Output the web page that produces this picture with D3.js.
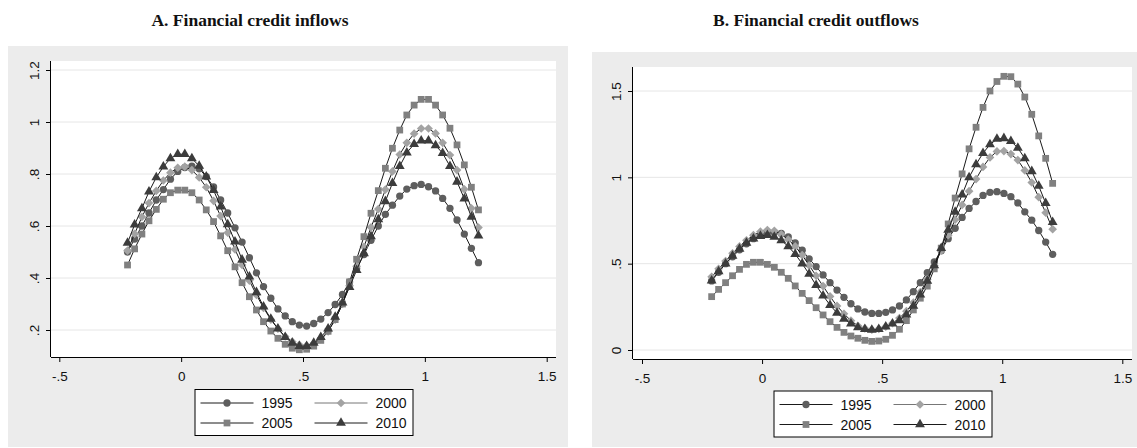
<!DOCTYPE html>
<meta charset="utf-8">
<style>
body { margin: 0; background: #fff; }
svg text { font-family: 'Liberation Sans', Arial, sans-serif; fill: #111; }
.title { font-family: 'Liberation Serif', serif; font-weight: bold; font-size: 17.5px; }
</style>
<body>
<svg id="chart" width="1137" height="448"></svg>

<script src="https://cdnjs.cloudflare.com/ajax/libs/d3/7.8.5/d3.min.js"></script>
<script>
var years = ['1995', '2000', '2005', '2010']

// panel A grid and curves
var xA = [-0.220, -0.191, -0.161, -0.132, -0.102, -0.073, -0.044, -0.014, 0.015, 0.044,
    0.074, 0.103, 0.133, 0.162, 0.191, 0.221, 0.250, 0.280, 0.309, 0.338,
    0.368, 0.397, 0.427, 0.456, 0.485, 0.515, 0.544, 0.573, 0.603, 0.632,
    0.662, 0.691, 0.720, 0.750, 0.779, 0.809, 0.838, 0.867, 0.897, 0.926,
    0.956, 0.985, 1.015, 1.044, 1.073, 1.103, 1.132, 1.162, 1.191, 1.220]
var inflows1995 = [0.50, 0.55, 0.60, 0.65, 0.70, 0.74, 0.78, 0.81, 0.825, 0.83,
    0.82, 0.79, 0.75, 0.70, 0.65, 0.593, 0.538, 0.478, 0.42, 0.367,
    0.322, 0.281, 0.254, 0.232, 0.219, 0.215, 0.225, 0.242, 0.267, 0.298,
    0.337, 0.385, 0.437, 0.49, 0.545, 0.60, 0.645, 0.68, 0.715, 0.742,
    0.755, 0.76, 0.751, 0.735, 0.706, 0.668, 0.623, 0.569, 0.514, 0.459]
var inflows2000 = [0.505, 0.57, 0.635, 0.688, 0.735, 0.775, 0.805, 0.824, 0.828, 0.815,
    0.787, 0.749, 0.697, 0.638, 0.574, 0.51, 0.45, 0.39, 0.335, 0.285,
    0.24, 0.205, 0.175, 0.155, 0.143, 0.14, 0.148, 0.165, 0.195, 0.24,
    0.30, 0.37, 0.445, 0.52, 0.595, 0.665, 0.74, 0.81, 0.875, 0.92,
    0.955, 0.975, 0.975, 0.956, 0.92, 0.873, 0.815, 0.741, 0.668, 0.594]
var inflows2005 = [0.45, 0.512, 0.569, 0.62, 0.664, 0.703, 0.728, 0.738, 0.738, 0.728,
    0.70, 0.662, 0.617, 0.562, 0.505, 0.443, 0.382, 0.328, 0.277, 0.232,
    0.196, 0.168, 0.145, 0.13, 0.124, 0.126, 0.138, 0.16, 0.195, 0.24,
    0.30, 0.385, 0.472, 0.559, 0.649, 0.736, 0.822, 0.899, 0.969, 1.027,
    1.065, 1.087, 1.087, 1.065, 1.027, 0.976, 0.912, 0.835, 0.749, 0.662]
var inflows2010 = [0.535, 0.605, 0.668, 0.732, 0.787, 0.828, 0.86, 0.876, 0.876, 0.86,
    0.831, 0.79, 0.738, 0.674, 0.606, 0.54, 0.47, 0.405, 0.345, 0.29,
    0.243, 0.205, 0.172, 0.15, 0.138, 0.138, 0.15, 0.172, 0.205, 0.25,
    0.305, 0.365, 0.43, 0.495, 0.56, 0.625, 0.695, 0.765, 0.83, 0.882,
    0.915, 0.928, 0.928, 0.91, 0.88, 0.83, 0.77, 0.705, 0.635, 0.563]

// panel B grid and curves
var xB = [-0.210, -0.181, -0.152, -0.123, -0.094, -0.065, -0.036, -0.007, 0.022, 0.051,
    0.080, 0.109, 0.138, 0.167, 0.196, 0.225, 0.254, 0.283, 0.312, 0.341,
    0.370, 0.399, 0.428, 0.457, 0.486, 0.515, 0.543, 0.572, 0.601, 0.630,
    0.659, 0.688, 0.717, 0.746, 0.775, 0.804, 0.833, 0.862, 0.891, 0.920,
    0.949, 0.978, 1.007, 1.036, 1.065, 1.094, 1.123, 1.152, 1.181, 1.210]
var outflows1995 = [0.40, 0.45, 0.50, 0.54, 0.58, 0.615, 0.645, 0.665, 0.678, 0.68,
    0.675, 0.655, 0.62, 0.578, 0.528, 0.483, 0.435, 0.39, 0.347, 0.305,
    0.268, 0.238, 0.22, 0.212, 0.212, 0.218, 0.232, 0.255, 0.29, 0.338,
    0.39, 0.448, 0.51, 0.575, 0.645, 0.705, 0.768, 0.82, 0.86, 0.895,
    0.913, 0.917, 0.907, 0.888, 0.852, 0.80, 0.752, 0.692, 0.625, 0.554]
var outflows2000 = [0.424, 0.47, 0.515, 0.56, 0.60, 0.635, 0.665, 0.685, 0.695, 0.69,
    0.67, 0.64, 0.60, 0.55, 0.49, 0.43, 0.37, 0.31, 0.255, 0.21,
    0.17, 0.14, 0.125, 0.118, 0.122, 0.135, 0.155, 0.185, 0.225, 0.275,
    0.335, 0.41, 0.49, 0.575, 0.665, 0.755, 0.84, 0.92, 0.99, 1.06,
    1.115, 1.15, 1.152, 1.135, 1.10, 1.04, 0.97, 0.885, 0.795, 0.70]
var outflows2005 = [0.309, 0.351, 0.39, 0.43, 0.467, 0.496, 0.508, 0.508, 0.496, 0.479,
    0.45, 0.415, 0.371, 0.328, 0.286, 0.245, 0.203, 0.164, 0.131, 0.102,
    0.081, 0.068, 0.056, 0.05, 0.052, 0.062, 0.085, 0.12, 0.17, 0.232,
    0.30, 0.37, 0.47, 0.59, 0.73, 0.88, 1.02, 1.165, 1.29, 1.405,
    1.50, 1.555, 1.585, 1.583, 1.54, 1.465, 1.365, 1.24, 1.11, 0.965]
var outflows2010 = [0.401, 0.455, 0.50, 0.545, 0.585, 0.62, 0.645, 0.66, 0.665, 0.655,
    0.635, 0.60, 0.555, 0.50, 0.44, 0.375, 0.315, 0.26, 0.215, 0.18,
    0.152, 0.131, 0.12, 0.116, 0.12, 0.135, 0.152, 0.172, 0.205, 0.255,
    0.32, 0.40, 0.49, 0.59, 0.695, 0.80, 0.90, 1.0, 1.075, 1.14,
    1.19, 1.222, 1.226, 1.21, 1.17, 1.11, 1.035, 0.95, 0.85, 0.74]

var xTicks = [-0.5, 0, 0.5, 1, 1.5]
var xTickLabels = ['-.5', '0', '.5', '1', '1.5']
var yTicksA = [0.2, 0.4, 0.6, 0.8, 1, 1.2]
var yTickLabelsA = ['.2', '.4', '.6', '.8', '1', '1.2']
var yTicksB = [0, 0.5, 1, 1.5]
var yTickLabelsB = ['0', '.5', '1', '1.5']

// marker style per year: circle, diamond, square, triangle
var markers = [
    { type: d3.symbolCircle, size: 42, fill: '#5e5e5e', rot: 0 },
    { type: d3.symbolSquare, size: 38, fill: '#a3a3a3', rot: 45 },
    { type: d3.symbolSquare, size: 46, fill: '#808080', rot: 0 },
    { type: d3.symbolTriangle, size: 42, fill: '#3c3c3c', rot: 0 }
]

var svg = d3.select('#chart')

panel({
    title: 'A. Financial credit inflows',
    titleX: 250,
    bg: [8, 46, 560, 401],
    plot: { left: 51, right: 556, top: 61, bottom: 357 },
    xRange: [59.3, 546.7],
    yDomain: [0.2, 1.2], yRange: [330, 70],
    yTicks: yTicksA, yTickLabels: yTickLabelsA,
    xs: xA,
    series: [inflows1995, inflows2000, inflows2005, inflows2010],
    legendY: 389
})

panel({
    title: 'B. Financial credit outflows',
    titleX: 816,
    bg: [592, 52, 545, 395],
    plot: { left: 633, right: 1132, top: 67, bottom: 359 },
    xRange: [642, 1122.3],
    yDomain: [0, 1.5], yRange: [350, 91],
    yTicks: yTicksB, yTickLabels: yTickLabelsB,
    xs: xB,
    series: [outflows1995, outflows2000, outflows2005, outflows2010],
    legendY: 390.5
})

function panel(cfg) {
    var p = cfg.plot
    var g = svg.append('g')

    g.append('rect')
        .attr('x', cfg.bg[0]).attr('y', cfg.bg[1])
        .attr('width', cfg.bg[2]).attr('height', cfg.bg[3])
        .style('fill', '#ececec')

    g.append('rect')
        .attr('x', p.left).attr('y', p.top)
        .attr('width', p.right - p.left).attr('height', p.bottom - p.top)
        .style('fill', '#fff')

    g.append('text')
        .attr('class', 'title')
        .attr('x', cfg.titleX)
        .attr('y', 26)
        .style('text-anchor', 'middle')
        .text(cfg.title)

    var x = d3.scaleLinear().domain([-0.5, 1.5]).range(cfg.xRange)
    var y = d3.scaleLinear().domain(cfg.yDomain).range(cfg.yRange)

    // grid
    g.append('g').selectAll('line')
        .data(cfg.yTicks)
        .enter().append('line')
        .attr('x1', p.left).attr('x2', p.right)
        .attr('y1', function (d) { return y(d) })
        .attr('y2', function (d) { return y(d) })
        .style('stroke', '#e6e6e6')
        .style('stroke-width', 1)

    var xAxis = d3.axisBottom(x)
        .tickValues(xTicks)
        .tickFormat(function (d, i) { return xTickLabels[i] })
        .tickSize(5)
        .tickPadding(9)
    var gx = g.append('g')
        .attr('transform', 'translate(0,' + p.bottom + ')')
        .call(xAxis)
    gx.select('.domain').attr('d', 'M' + p.left + ',0.5H' + p.right)

    var yAxis = d3.axisLeft(y)
        .tickValues(cfg.yTicks)
        .tickFormat(function (d, i) { return cfg.yTickLabels[i] })
        .tickSize(5)
    var gy = g.append('g')
        .attr('transform', 'translate(' + p.left + ',0)')
        .call(yAxis)
    gy.select('.domain').attr('d', 'M-0.5,' + p.top + 'V' + p.bottom)
    gy.selectAll('.tick text')
        .attr('transform', 'rotate(-90)')
        .attr('x', 0)
        .attr('y', -12)
        .attr('dy', 0)
        .style('text-anchor', 'middle')

    g.selectAll('.tick text').style('font-size', '13.5px').style('fill', '#111')
    g.selectAll('.domain, .tick line').style('stroke', '#000')

    var line = d3.line()
        .x(function (d, i) { return x(cfg.xs[i]) })
        .y(function (d) { return y(d) })

    cfg.series.forEach(function (values, s) {
        var m = markers[s]
        var sg = g.append('g')
        sg.append('path')
            .attr('d', line(values))
            .style('fill', 'none')
            .style('stroke', '#1a1a1a')
            .style('stroke-width', 1)
        sg.selectAll('path.pt')
            .data(values)
            .enter().append('path')
            .attr('class', 'pt')
            .attr('d', d3.symbol().type(m.type).size(m.size))
            .attr('transform', function (d, i) {
                return 'translate(' + x(cfg.xs[i]) + ',' + y(d) + ') rotate(' + m.rot + ')'
            })
            .style('fill', m.fill)
    })

    // legend
    var lw = 218, lh = 46
    var lx = (p.left + p.right) / 2 - lw / 2
    var lg = g.append('g').attr('transform', 'translate(' + lx + ',' + cfg.legendY + ')')
    lg.append('rect')
        .attr('x', 0.5).attr('y', 0.5)
        .attr('width', lw).attr('height', lh)
        .style('fill', '#fff')
        .style('stroke', '#000')

    years.forEach(function (yr, i) {
        var col = i % 2, row = Math.floor(i / 2)
        var cx = 6 + col * 114
        var cy = 14 + row * 20
        var m = markers[i]
        lg.append('line')
            .attr('x1', cx).attr('x2', cx + 53)
            .attr('y1', cy).attr('y2', cy)
            .style('stroke', i === 1 ? '#777' : '#1a1a1a')
            .style('stroke-width', 1)
        lg.append('path')
            .attr('d', d3.symbol().type(m.type).size(m.size)())
            .attr('transform', 'translate(' + (cx + 26.5) + ',' + cy + ') rotate(' + m.rot + ')')
            .style('fill', m.fill)
        lg.append('text')
            .attr('x', cx + 61)
            .attr('y', cy + 5)
            .style('font-size', '14px')
            .text(yr)
    })
}
</script>
</body>
